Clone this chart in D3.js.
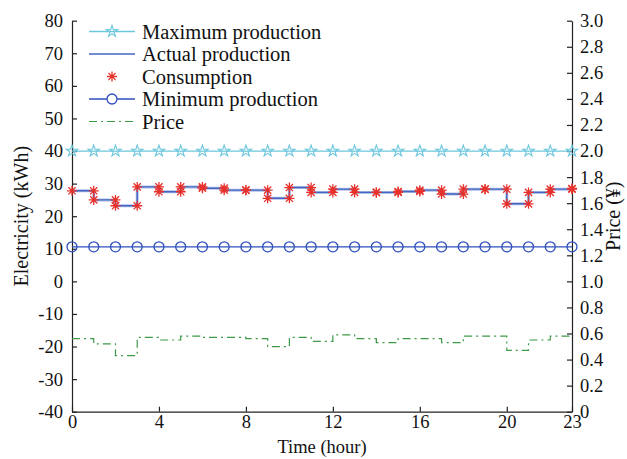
<!DOCTYPE html>
<meta charset="utf-8">
<head>
    <script type="text/javascript" src="https://cdn.jsdelivr.net/npm/d3@7"></script>
    <style>
        body { margin: 0; background: #fff; }
        text { font-family: "Liberation Serif", "Times New Roman", serif; fill: #111; }
        .axis path, .axis line { stroke: #222; stroke-width: 1.2; }
        .axis text { font-size: 18.5px; font-family: "Liberation Serif", "Times New Roman", serif; fill: #111; }
    </style>
    <title>Electricity and price</title>
</head>
<body>
<script>
    // data
    var hours = d3.range(0, 24);
    var maxProduction = [40,40,40,40,40,40,40,40,40,40,40,40,40,40,40,40,40,40,40,40,40,40,40,40];
    var minProduction = [10.6,10.6,10.6,10.6,10.6,10.6,10.6,10.6,10.6,10.6,10.6,10.6,10.6,10.6,10.6,10.6,10.6,10.6,10.6,10.6,10.6,10.6,10.6,10.6];
    var actualProduction = [27.8,25.0,23.2,29.0,27.5,29.0,28.6,28.0,28.0,25.5,28.8,27.3,28.3,27.3,27.3,27.6,28.0,26.8,28.3,28.3,23.8,27.3,28.3,28.5];
    var consumption = [27.8,25.0,23.2,29.0,27.5,29.0,28.6,28.0,28.0,25.5,28.8,27.3,28.3,27.3,27.3,27.6,28.0,26.8,28.3,28.3,23.8,27.3,28.3,28.5];
    var price = [0.56,0.52,0.43,0.57,0.55,0.58,0.57,0.57,0.56,0.50,0.57,0.54,0.59,0.56,0.53,0.56,0.56,0.53,0.58,0.58,0.47,0.55,0.58,0.58];

    var xTicks = [0, 4, 8, 12, 16, 20, 23];
    var leftTicks = d3.range(-40, 81, 10);
    var rightTicks = d3.range(0, 16).map(function(i) { return i * 0.2; });
    var legendNames = ["Maximum production", "Actual production", "Consumption", "Minimum production", "Price"];

    var W = 627, H = 459;
    var margin = {top: 20.7, right: 55, bottom: 47.3, left: 72};

    var colMax = "#6cc6dc", colActual = "#4366c4", colCons = "#e8302a", colMin = "#2e4fbd", colPrice = "#3d9a47";

    var svg = d3.select("body").append("svg")
        .attr("width", W)
        .attr("height", H);

    var x = d3.scaleLinear().domain([0, 23]).range([margin.left, W - margin.right]);
    var yL = d3.scaleLinear().domain([-40, 80]).range([H - margin.bottom, margin.top]);
    var yR = d3.scaleLinear().domain([0, 3]).range([H - margin.bottom, margin.top]);

    // axes, ticks pointing inward
    svg.append("g").attr("class", "axis")
        .attr("transform", "translate(" + margin.left + ",0)")
        .call(d3.axisLeft(yL).tickValues(leftTicks).tickSize(-5).tickSizeOuter(0).tickPadding(9)
            .tickFormat(function(d) { return String(d); }));
    svg.append("g").attr("class", "axis")
        .attr("transform", "translate(" + (W - margin.right) + ",0)")
        .call(d3.axisRight(yR).tickValues(rightTicks).tickSize(-5).tickSizeOuter(0).tickPadding(8)
            .tickFormat(function(d) { return d === 0 ? "0" : d.toFixed(1); }));
    svg.append("g").attr("class", "axis")
        .attr("transform", "translate(0," + (H - margin.bottom) + ")")
        .call(d3.axisBottom(x).tickValues(xTicks).tickSize(-5).tickSizeOuter(0).tickPadding(3));

    // axis titles
    svg.append("text")
        .attr("transform", "translate(21," + ((margin.top + H - margin.bottom) / 2) + ") rotate(-90)")
        .attr("text-anchor", "middle")
        .attr("dominant-baseline", "central")
        .style("font-size", "20px")
        .text("Electricity (kWh)");
    svg.append("text")
        .attr("transform", "translate(613," + ((margin.top + H - margin.bottom) / 2) + ") rotate(-90)")
        .attr("text-anchor", "middle")
        .attr("dominant-baseline", "central")
        .style("font-size", "20px")
        .text("Price (\u00a5)");
    svg.append("text")
        .attr("x", (margin.left + W - margin.right) / 2)
        .attr("y", 453)
        .attr("text-anchor", "middle")
        .style("font-size", "18.5px")
        .text("Time (hour)");

    // marker helpers
    var starPath = d3.symbol().type(d3.symbolStar).size(40);
    function asterisk(g, cx, cy) {
        var r = 5, d = 3.6;
        g.append("path")
            .attr("d", "M" + (cx - r) + "," + cy + "H" + (cx + r) +
                       "M" + cx + "," + (cy - r) + "V" + (cy + r) +
                       "M" + (cx - d) + "," + (cy - d) + "L" + (cx + d) + "," + (cy + d) +
                       "M" + (cx - d) + "," + (cy + d) + "L" + (cx + d) + "," + (cy - d))
            .attr("stroke", colCons).attr("stroke-width", 1.3).attr("fill", "none");
    }

    var plot = svg.append("g");

    // maximum production
    var lineL = d3.line().x(function(d) { return x(d[0]); }).y(function(d) { return yL(d[1]); });
    plot.append("path")
        .attr("d", lineL(hours.map(function(h) { return [h, maxProduction[h]]; })))
        .attr("fill", "none").attr("stroke", colMax).attr("stroke-width", 1.3);
    plot.selectAll(".star").data(hours).enter().append("path")
        .attr("class", "star")
        .attr("d", starPath)
        .attr("transform", function(h) { return "translate(" + x(h) + "," + yL(maxProduction[h]) + ")"; })
        .attr("fill", "none").attr("stroke", colMax).attr("stroke-width", 1.1);

    // actual production (stairs)
    var stairsL = d3.line().curve(d3.curveStepAfter).x(function(d) { return x(d[0]); }).y(function(d) { return yL(d[1]); });
    var actualPts = hours.map(function(h) { return [h, actualProduction[h]]; });
    plot.append("path")
        .attr("d", stairsL(actualPts))
        .attr("fill", "none").attr("stroke", "#aebfe6").attr("stroke-width", 3);
    plot.append("path")
        .attr("d", stairsL(actualPts))
        .attr("fill", "none").attr("stroke", colActual).attr("stroke-width", 1.4);

    // consumption markers at stair corners
    var consG = plot.append("g");
    hours.forEach(function(h) {
        if (h > 0) asterisk(consG, x(h), yL(consumption[h - 1]));
        asterisk(consG, x(h), yL(consumption[h]));
    });

    // minimum production
    plot.append("path")
        .attr("d", lineL(hours.map(function(h) { return [h, minProduction[h]]; })))
        .attr("fill", "none").attr("stroke", colMin).attr("stroke-width", 1.3);
    plot.selectAll(".circ").data(hours).enter().append("circle")
        .attr("class", "circ")
        .attr("cx", function(h) { return x(h); })
        .attr("cy", function(h) { return yL(minProduction[h]); })
        .attr("r", 5)
        .attr("fill", "none").attr("stroke", colMin).attr("stroke-width", 1.3);

    // price (stairs, dash-dot)
    var stairsR = d3.line().curve(d3.curveStepAfter).x(function(d) { return x(d[0]); }).y(function(d) { return yR(d[1]); });
    plot.append("path")
        .attr("d", stairsR(hours.map(function(h) { return [h, price[h]]; })))
        .attr("fill", "none").attr("stroke", colPrice).attr("stroke-width", 1.2)
        .attr("stroke-dasharray", "8,4,2,4");

    // legend
    var legend = svg.append("g").attr("id", "legend");
    var lx1 = 89, lx2 = 135, lmx = 112, ltx = 142, ly0 = 31.5, ldy = 22.5;
    legendNames.forEach(function(name, i) {
        var ly = ly0 + i * ldy;
        if (i === 0) {
            legend.append("line").attr("x1", lx1).attr("x2", lx2).attr("y1", ly).attr("y2", ly).attr("stroke", colMax).attr("stroke-width", 1.3);
            legend.append("path").attr("d", starPath).attr("transform", "translate(" + lmx + "," + ly + ")")
                .attr("fill", "none").attr("stroke", colMax).attr("stroke-width", 1.1);
        } else if (i === 1) {
            legend.append("line").attr("x1", lx1).attr("x2", lx2).attr("y1", ly).attr("y2", ly).attr("stroke", colActual).attr("stroke-width", 1.4);
        } else if (i === 2) {
            asterisk(legend, lmx, ly);
        } else if (i === 3) {
            legend.append("line").attr("x1", lx1).attr("x2", lx2).attr("y1", ly).attr("y2", ly).attr("stroke", colMin).attr("stroke-width", 1.3);
            legend.append("circle").attr("cx", lmx).attr("cy", ly).attr("r", 5)
                .attr("fill", "#fff").attr("stroke", colMin).attr("stroke-width", 1.3);
        } else {
            legend.append("line").attr("x1", lx1).attr("x2", lx2).attr("y1", ly).attr("y2", ly).attr("stroke", colPrice)
                .attr("stroke-width", 1.2).attr("stroke-dasharray", "8,4,2,4");
        }
        legend.append("text")
            .attr("x", ltx).attr("y", ly)
            .attr("dominant-baseline", "central")
            .style("font-size", "20.5px")
            .text(name);
    });
</script>
</body>
</html>
